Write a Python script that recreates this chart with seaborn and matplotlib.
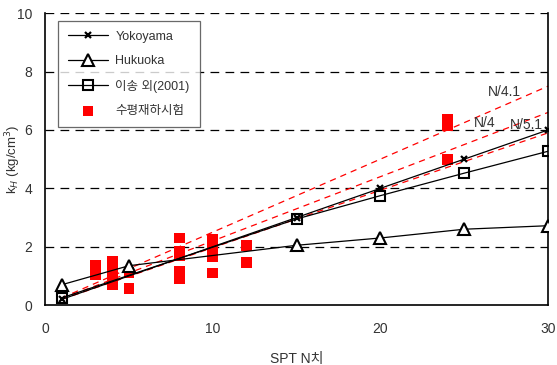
import matplotlib
matplotlib.use("Agg")
import matplotlib.pyplot as plt
import seaborn as sns
import pandas as pd

# SPT N values and subgrade reaction coefficients kH (kg/cm^3)
yoko_n = [1, 15, 20, 25, 30]
yoko_k = [0.2, 3.0, 4.0, 5.0, 6.0]

huku_n = [1, 5, 15, 20, 25, 30]
huku_k = [0.7, 1.35, 2.05, 2.3, 2.6, 2.72]

lee_n = [1, 15, 20, 25, 30]
lee_k = [0.25, 2.95, 3.75, 4.52, 5.27]

# horizontal load test results
test_n = [3, 3, 3, 4, 4, 4, 4, 4, 5, 5, 8, 8, 8, 8, 8,
          10, 10, 10, 10, 10, 12, 12, 24, 24, 24]
test_k = [1.05, 1.2, 1.35, 0.7, 0.9, 1.1, 1.3, 1.5, 1.12, 0.56,
          2.3, 1.85, 1.68, 1.16, 0.92,
          2.25, 2.05, 1.85, 1.65, 1.1, 2.05, 1.45, 6.35, 6.15, 5.0]

# reference fit lines (two end points each)
fit_n = [1, 30]
fit_upper = [0.25, 7.5]
fit_mid = [0.22, 6.6]
fit_low = [0.2, 5.9]
fit_labels = ["N/4.1", "N/4", "N/5.1"]

x_ticks = [0, 10, 20, 30]
y_ticks = [0, 2, 4, 6, 8, 10]

sns.set_theme(style="white")
plt.rcParams["font.family"] = ["Liberation Sans", "Noto Sans CJK KR", "DejaVu Sans"]

fig = plt.figure(figsize=(5.57, 3.65), dpi=100)
ax = fig.add_axes([0.081, 0.164, 0.903, 0.8])

for yv in [2, 4, 6, 8, 10]:
    ax.axhline(yv, color="black", lw=0.9, ls=(0, (7, 5)), zorder=1)

for fk in [fit_upper, fit_mid, fit_low]:
    sns.lineplot(x=fit_n, y=fk, ax=ax, color="red", lw=0.9,
                 linestyle=(0, (5, 4)), zorder=2, clip_on=False)

sns.lineplot(x=yoko_n, y=yoko_k, ax=ax, color="black", lw=0.9, marker="x",
             markersize=5, markeredgewidth=1.6, markeredgecolor="black",
             label="Yokoyama", zorder=4)
sns.lineplot(x=huku_n, y=huku_k, ax=ax, color="black", lw=0.9, marker="^",
             markersize=8, markerfacecolor="white", markeredgecolor="black",
             markeredgewidth=1.5, label="Hukuoka", zorder=4)
sns.lineplot(x=lee_n, y=lee_k, ax=ax, color="black", lw=0.9, marker="s",
             markersize=7.5, markerfacecolor="none", markeredgecolor="black",
             markeredgewidth=1.5, label="이송 외(2001)", zorder=4)

tests = pd.DataFrame({"N": test_n, "kH": test_k})
sns.scatterplot(data=tests, x="N", y="kH", ax=ax, marker="s", s=60,
                color="red", edgecolor="none", label="수평재하시험", zorder=3)

txt_col = "#333333"
ax.text(26.4, 7.3, fit_labels[0], fontsize=10, color=txt_col, va="center")
ax.text(25.6, 6.23, fit_labels[1], fontsize=10, color=txt_col, va="center")
ax.text(27.7, 6.16, fit_labels[2], fontsize=10, color=txt_col, va="center")

ax.set_xlim(0, 30)
ax.set_ylim(0, 10)
ax.set_xticks(x_ticks)
ax.set_yticks(y_ticks)
ax.tick_params(direction="in", length=4, width=0.8, colors="black",
               labelcolor=txt_col, labelsize=10, pad=12)
ax.tick_params(axis="y", pad=9.5)
ax.set_xlabel("SPT N치", fontsize=10, color=txt_col, labelpad=12)
ax.set_ylabel("k$_H$ (kg/cm$^3$)", fontsize=9.5, color=txt_col)
ax.yaxis.set_label_coords(-0.044, 0.5)

for side in ["left", "right", "bottom"]:
    ax.spines[side].set_visible(True)
    ax.spines[side].set_color("black")
    ax.spines[side].set_linewidth(1.2)
ax.spines["top"].set_visible(False)

leg = ax.legend(loc="upper left", bbox_to_anchor=(0.013, 0.995), fontsize=9,
                frameon=True, fancybox=False, edgecolor="#444444",
                handlelength=3.2, labelspacing=1.0, borderpad=0.8,
                handletextpad=0.6)
leg.get_frame().set_linewidth(0.9)
for t in leg.get_texts():
    t.set_color(txt_col)

fig.savefig("out.png", dpi=100)
